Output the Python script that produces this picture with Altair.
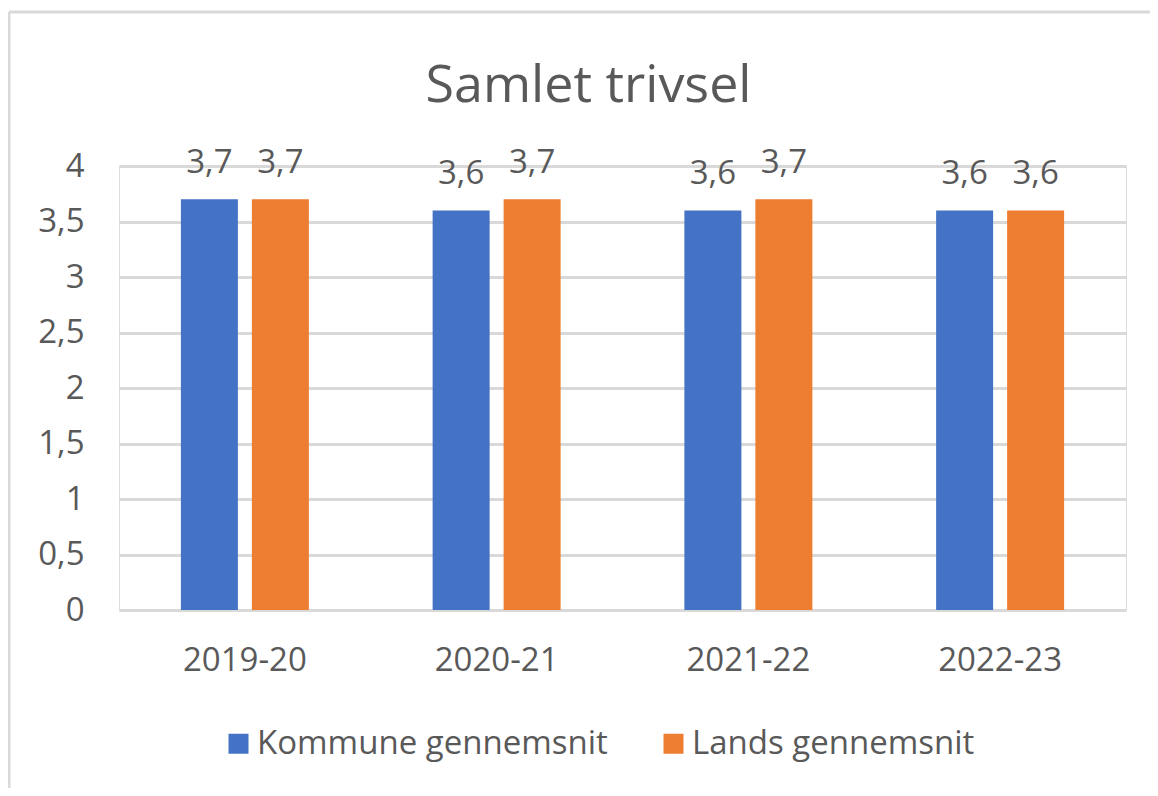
import altair as alt
import pandas as pd

years = ["2019-20", "2020-21", "2021-22", "2022-23"]
kommune = [3.7, 3.6, 3.6, 3.6]
lands = [3.7, 3.7, 3.7, 3.6]
series_names = ["Kommune gennemsnit", "Lands gennemsnit"]
series_colors = ["#4472C4", "#ED7D31"]
y_ticks = [0, 0.5, 1, 1.5, 2, 2.5, 3, 3.5, 4]

rows = []
for i, y in enumerate(years):
    rows.append({"year": y, "series": series_names[0], "value": kommune[i]})
    rows.append({"year": y, "series": series_names[1], "value": lands[i]})
df = pd.DataFrame(rows)

FONT = "Open Sans"
GREY = "#595959"
W, H = 1007, 444

x_enc = alt.X("year:N", sort=years,
              scale=alt.Scale(paddingInner=0.4916, paddingOuter=0.2458),
              axis=alt.Axis(title=None, labelAngle=0, labelPadding=34, ticks=False,
                            tickSize=0, domain=False, grid=False,
                            labelFontSize=33, labelColor=GREY, labelFont=FONT))
xo_enc = alt.XOffset("series:N", sort=series_names,
                     scale=alt.Scale(paddingInner=0.197, paddingOuter=0))
y_enc = alt.Y("value:Q", scale=alt.Scale(domain=[0, 4], nice=False),
              axis=alt.Axis(title=None, values=y_ticks, ticks=False, tickSize=0,
                            domain=False, labelPadding=35, labelFontSize=33,
                            labelColor=GREY, labelFont=FONT,
                            gridColor="#D9D9D9", gridWidth=3, gridOpacity=1,
                            labelExpr="replace(toString(datum.value), '.', ',')"))

base = alt.Chart(df).encode(x=x_enc, xOffset=xo_enc, y=y_enc)

bars = base.mark_bar().encode(
    color=alt.Color("series:N", sort=series_names,
                    scale=alt.Scale(domain=series_names, range=series_colors),
                    legend=alt.Legend(title=None, orient="none", direction="horizontal",
                                      columns=2, legendX=103, legendY=561, padding=0,
                                      symbolType="square", symbolSize=400,
                                      symbolStrokeWidth=0, symbolOpacity=1,
                                      labelFontSize=33, labelColor=GREY, labelFont=FONT,
                                      labelLimit=1000,
                                      labelOffset=2, columnPadding=49))
)

labels = base.mark_text(fontSize=33, font=FONT, color=GREY, baseline="alphabetic",
                        dy=-26).encode(
    text=alt.Text("label:N")
).transform_calculate(label="replace(format(datum.value, '.1f'), '.', ',')")

border_df = pd.DataFrame({"k": [0]})
vborder = alt.Chart(border_df).mark_rule(color="#D9D9D9", strokeWidth=3).encode(
    x=alt.value(-110), y=alt.value(-154), y2=alt.value(640))
hborder = alt.Chart(border_df).mark_rule(color="#D9D9D9", strokeWidth=3).encode(
    x=alt.value(-110), x2=alt.value(1050), y=alt.value(-154))

chart = alt.layer(vborder, hborder, bars, labels).properties(
    width=W, height=H,
    title=alt.TitleParams("Samlet trivsel", fontSize=52, font=FONT, color=GREY,
                          fontWeight="normal", anchor="middle", frame="group",
                          dx=-34, baseline="alphabetic", offset=-143),
    autosize=alt.AutoSizeParams(type="none"),
    padding={"left": 111, "top": 158, "right": 24, "bottom": 178},
).configure_view(stroke=None).configure(background="white")

chart.save("out.html", embed_options={"renderer": "svg", "actions": False})
